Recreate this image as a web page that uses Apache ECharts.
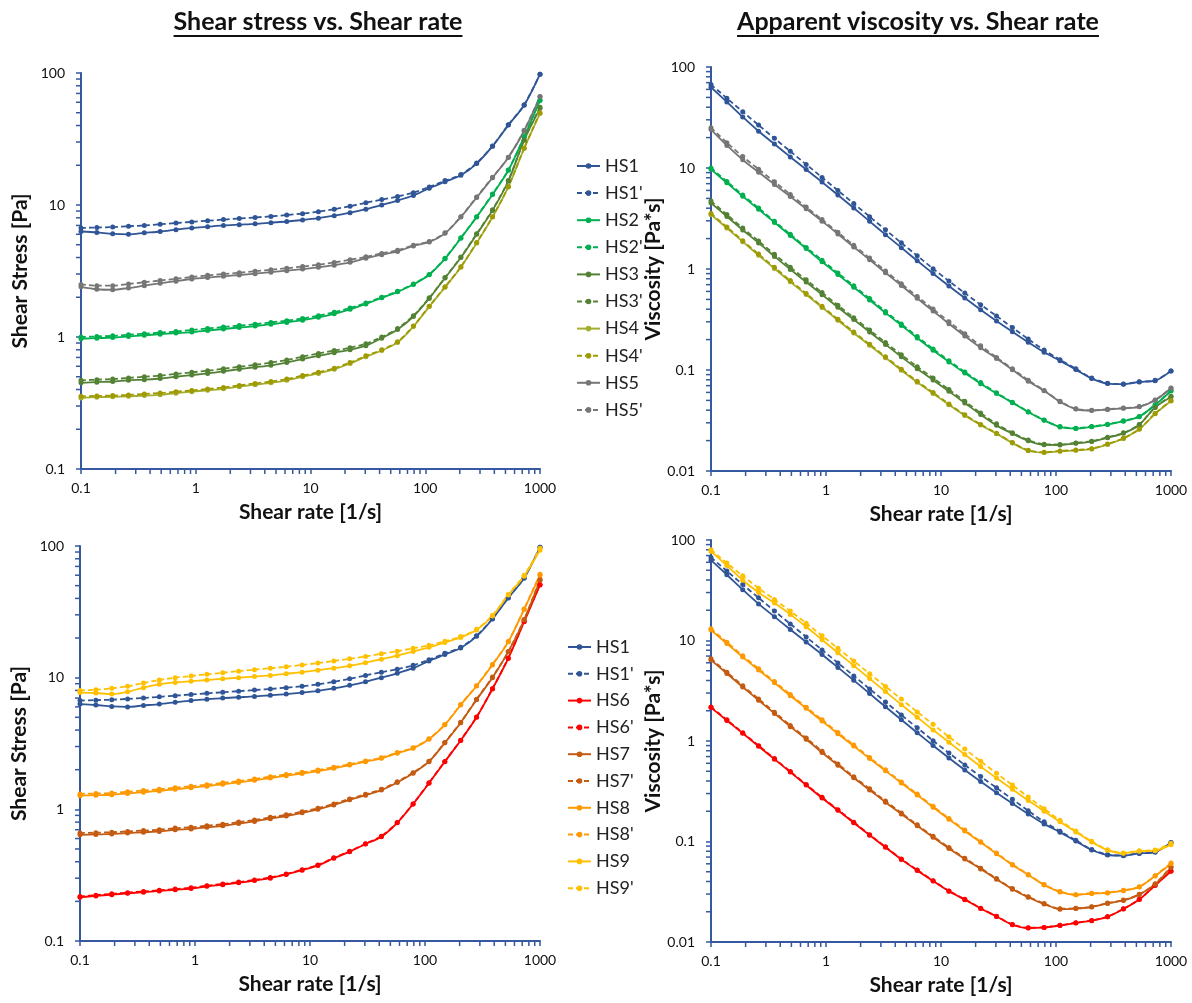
<!DOCTYPE html>
<html><head><meta charset="utf-8">
<script src="https://cdn.jsdelivr.net/npm/echarts/dist/echarts.min.js"></script>
<style>html,body{margin:0;padding:0;background:#fff}#c{width:1192px;height:1003px}</style>
</head><body><div id="c"></div>
<script>
// ---- data (shear rate in 1/s, shear stress in Pa) ----
const shearRate = [0.1,0.1374,0.1888,0.2593,0.3562,0.4894,0.6723,0.9237,1.269,1.743,2.395,3.290,4.520,6.210,8.532,11.72,16.10,22.12,30.39,41.75,57.36,78.80,108.3,148.7,204.3,280.7,385.7,529.8,727.9,1000];

const HS1  = [6.3,6.2,6.05,6.0,6.15,6.3,6.5,6.7,6.85,7.0,7.1,7.2,7.35,7.5,7.7,7.95,8.3,8.75,9.3,10.0,10.8,11.8,13.4,15.0,16.8,20.6,27.9,40.3,57,98];
const HS1p = [6.7,6.75,6.8,6.9,7.0,7.15,7.3,7.45,7.6,7.75,7.9,8.05,8.2,8.4,8.6,8.9,9.3,9.8,10.4,11.0,11.6,12.4,13.7,15.3,17.0,20.8,28.0,40.5,57.5,98];
const HS2  = [0.97,0.98,0.99,1.01,1.03,1.05,1.07,1.09,1.12,1.15,1.18,1.21,1.25,1.29,1.34,1.41,1.50,1.62,1.78,1.98,2.2,2.5,2.96,3.92,5.6,8.1,12.0,18.3,32.8,62];
const HS2p = [1.0,1.01,1.02,1.04,1.06,1.08,1.1,1.13,1.16,1.19,1.22,1.25,1.29,1.33,1.38,1.45,1.54,1.66,1.81,2.0,2.22,2.52,2.98,3.95,5.65,8.15,12.1,18.4,33,62.5];
const HS3  = [0.45,0.455,0.46,0.47,0.475,0.485,0.50,0.515,0.53,0.55,0.57,0.59,0.61,0.64,0.68,0.72,0.76,0.80,0.86,0.98,1.14,1.43,1.96,2.8,4.0,6.0,9.1,15.2,31,54];
const HS3p = [0.47,0.475,0.48,0.49,0.5,0.51,0.525,0.54,0.555,0.575,0.595,0.615,0.64,0.67,0.71,0.75,0.79,0.83,0.89,1.0,1.16,1.45,1.98,2.82,4.03,6.05,9.2,15.3,31.2,55];
const HS4  = [0.345,0.35,0.352,0.355,0.36,0.365,0.375,0.385,0.395,0.405,0.42,0.435,0.45,0.47,0.50,0.53,0.57,0.63,0.71,0.79,0.91,1.20,1.70,2.38,3.38,5.15,8.1,13.7,26.8,49.4];
const HS4p = [0.355,0.358,0.36,0.364,0.37,0.376,0.385,0.394,0.404,0.415,0.43,0.445,0.46,0.48,0.51,0.54,0.58,0.64,0.72,0.8,0.92,1.21,1.71,2.4,3.4,5.2,8.15,13.8,27,50];
const HS5  = [2.4,2.3,2.28,2.35,2.45,2.55,2.65,2.75,2.82,2.88,2.95,3.02,3.1,3.18,3.27,3.37,3.5,3.68,3.95,4.2,4.45,4.9,5.25,6.1,8.1,11.4,16.1,22.9,36.5,66];
const HS5p = [2.5,2.45,2.45,2.52,2.6,2.68,2.76,2.85,2.93,3.0,3.07,3.15,3.23,3.32,3.42,3.53,3.67,3.85,4.05,4.3,4.55,4.95,5.3,6.15,8.15,11.5,16.2,23,36.8,66.5];
const HS6  = [0.215,0.22,0.225,0.23,0.235,0.24,0.245,0.25,0.26,0.268,0.277,0.288,0.30,0.32,0.345,0.375,0.425,0.477,0.545,0.62,0.79,1.1,1.58,2.3,3.33,5.0,8.2,14.0,26.6,50.6];
const HS6p = [0.218,0.223,0.228,0.233,0.238,0.243,0.248,0.254,0.263,0.271,0.28,0.291,0.303,0.323,0.348,0.378,0.428,0.48,0.548,0.625,0.795,1.1,1.59,2.31,3.35,5.02,8.25,14.1,26.8,51];
const HS7  = [0.64,0.645,0.65,0.66,0.67,0.68,0.70,0.71,0.73,0.75,0.78,0.81,0.85,0.89,0.94,1.0,1.08,1.18,1.28,1.40,1.60,1.88,2.3,3.2,4.55,6.8,10,15.7,27.4,55];
const HS7p = [0.66,0.665,0.67,0.68,0.69,0.70,0.72,0.73,0.75,0.77,0.80,0.83,0.87,0.91,0.96,1.02,1.1,1.2,1.3,1.42,1.62,1.9,2.32,3.22,4.58,6.85,10.1,15.8,27.6,56];
const HS8  = [1.27,1.28,1.29,1.32,1.35,1.38,1.42,1.46,1.50,1.55,1.60,1.66,1.73,1.80,1.87,1.95,2.05,2.17,2.30,2.44,2.67,2.91,3.41,4.38,6.2,8.65,12.5,18.7,33,60];
const HS8p = [1.31,1.32,1.33,1.36,1.39,1.42,1.46,1.5,1.54,1.59,1.64,1.7,1.77,1.84,1.91,1.99,2.09,2.2,2.33,2.47,2.7,2.94,3.44,4.4,6.25,8.7,12.6,18.8,33.3,61];
const HS9  = [7.7,7.65,7.5,7.8,8.4,8.9,9.2,9.4,9.6,9.8,10.0,10.2,10.4,10.7,11.0,11.4,11.8,12.3,13.0,13.8,14.7,15.8,17.0,18.5,20.2,23,29.4,42.4,59,93];
const HS9p = [8.0,8.1,8.3,8.6,9.1,9.6,10.0,10.3,10.6,10.9,11.2,11.5,11.8,12.1,12.5,12.9,13.4,13.9,14.5,15.2,15.9,16.7,17.6,18.9,20.5,23.3,29.7,42.8,60,96];

// axis tick values
const xMinorTicks = [0.2,0.3,0.4,0.5,0.6,0.7,0.8,0.9,2,3,4,5,6,7,8,9,20,30,40,50,60,70,80,90,200,300,400,500,600,700,800,900];
const stressMinorTicks = [0.2,0.3,0.4,0.5,0.6,0.7,0.8,0.9,2,3,4,5,6,7,8,9,20,30,40,50,60,70,80,90];
const viscMinorTicks = [0.02,0.03,0.04,0.05,0.06,0.07,0.08,0.09,0.2,0.3,0.4,0.5,0.6,0.7,0.8,0.9,2,3,4,5,6,7,8,9,20,30,40,50,60,70,80,90];

const topSet = [['HS1',HS1,'#2F5597',false],["HS1'",HS1p,'#2F5597',true],['HS2',HS2,'#00B050',false],["HS2'",HS2p,'#00B050',true],
  ['HS3',HS3,'#548235',false],["HS3'",HS3p,'#548235',true],['HS4',HS4,'#A4AE2E',false],["HS4'",HS4p,'#9E9A00',true],
  ['HS5',HS5,'#767676',false],["HS5'",HS5p,'#767676',true]];
const botSet = [['HS1',HS1,'#2F5597',false],["HS1'",HS1p,'#2F5597',true],['HS6',HS6,'#FF0000',false],["HS6'",HS6p,'#FF0000',true],
  ['HS7',HS7,'#C55A11',false],["HS7'",HS7p,'#C55A11',true],['HS8',HS8,'#FF9900',false],["HS8'",HS8p,'#FF9900',true],
  ['HS9',HS9,'#FFC000',false],["HS9'",HS9p,'#FFC000',true]];

const AX = '#3558A0';
const FONT = 'Lato';
const fmt = v => String(+(+v).toPrecision(6));

function lineSeries(entry, gi, visc) {
  const [name, vals, color, dashed] = entry;
  // apparent viscosity = shear stress / shear rate
  const data = shearRate.map((r, i) => [r, visc ? vals[i] / r : vals[i]]);
  return {type:'line', name, xAxisIndex:gi, yAxisIndex:gi, data, smooth:0.3,
    symbol:'circle', symbolSize:5, showSymbol:true, animation:false,
    lineStyle:{color, width:1.8, type: dashed ? [5,3] : 'solid'},
    itemStyle:{color}, emphasis:{disabled:true}, z:3};
}
function tickSeries(gi, axis, values, cross) {
  return {type:'custom', xAxisIndex:gi, yAxisIndex:gi, silent:true, clip:false, z:1, animation:false,
    data: values.map(v => axis === 'x' ? [v, cross] : [cross, v]),
    renderItem(params, api) {
      const p = api.coord([api.value(0), api.value(1)]);
      const shape = axis === 'x' ? {x1:p[0], y1:p[1], x2:p[0], y2:p[1] + 5} : {x1:p[0] - 5, y1:p[1], x2:p[0], y2:p[1]};
      return {type:'line', shape, style:{stroke:AX, lineWidth:1.5}};
    }};
}
function xAx(gi) {
  return {type:'log', logBase:10, min:0.1, max:1000, gridIndex:gi,
    axisLine:{lineStyle:{color:AX, width:2}}, axisTick:{show:true, length:5, lineStyle:{color:AX, width:1.5}},
    axisLabel:{margin:12, color:'#111', fontFamily:FONT, fontSize:14, formatter:fmt},
    splitLine:{show:false}, minorTick:{show:false},
    name:'Shear rate [1/s]', nameLocation:'middle', nameGap:33,
    nameTextStyle:{color:'#111', fontFamily:FONT, fontWeight:'bold', fontSize:21}};
}
function yAx(gi, min, name, gap) {
  return {type:'log', logBase:10, min, max:100, gridIndex:gi,
    axisLine:{show:true, lineStyle:{color:AX, width:2}}, axisTick:{show:true, length:5, lineStyle:{color:AX, width:1.5}},
    axisLabel:{margin:16, color:'#111', fontFamily:FONT, fontSize:14, formatter:fmt},
    splitLine:{show:false},
    name, nameLocation:'middle', nameGap:gap,
    nameTextStyle:{color:'#111', fontFamily:FONT, fontWeight:'bold', fontSize:21}};
}

const series = [];
topSet.forEach(e => series.push(lineSeries(e, 0, false)));
botSet.forEach(e => series.push(lineSeries(e, 2, false)));
topSet.forEach(e => series.push(lineSeries(e, 1, true)));
botSet.forEach(e => series.push(lineSeries(e, 3, true)));
series.push(tickSeries(0,'x',xMinorTicks,0.1), tickSeries(0,'y',stressMinorTicks,0.1));
series.push(tickSeries(1,'x',xMinorTicks,0.01), tickSeries(1,'y',viscMinorTicks,0.1));
series.push(tickSeries(2,'x',xMinorTicks,0.1), tickSeries(2,'y',stressMinorTicks,0.1));
series.push(tickSeries(3,'x',xMinorTicks,0.01), tickSeries(3,'y',viscMinorTicks,0.1));

// titles with underline
const titles = [['Shear stress vs. Shear rate', 318], ['Apparent viscosity vs. Shear rate', 918]];
const ctx = document.createElement('canvas').getContext('2d');
const TFONT = 'bold 25px ' + FONT;
ctx.font = TFONT;
const graphic = [];
titles.forEach(([t, cx]) => {
  const w = ctx.measureText(t).width;
  graphic.push({type:'text', x:cx, y:22, style:{text:t, font:TFONT, fill:'#111', align:'center', verticalAlign:'middle'}});
  graphic.push({type:'line', shape:{x1:cx - w/2, y1:36, x2:cx + w/2, y2:36}, style:{stroke:'#111', lineWidth:2}});
});

const legendCommon = {orient:'vertical', itemWidth:23, itemHeight:7, selectedMode:false,
  textStyle:{fontFamily:FONT, fontSize:18, lineHeight:20, color:'#222'}};

const option = {
  animation:false,
  backgroundColor:'#fff',
  graphic,
  legend:[
    Object.assign({}, legendCommon, {left:571, top:151, itemGap:7.1, data:topSet.map(e => e[0])}),
    Object.assign({}, legendCommon, {left:562, top:632, itemGap:6.8, data:botSet.map(e => e[0])})
  ],
  grid:[
    {left:81, top:73, width:459, height:396},
    {left:711, top:67, width:460, height:404},
    {left:80, top:546, width:460, height:395},
    {left:711, top:540, width:460, height:402}
  ],
  xAxis:[xAx(0), xAx(1), xAx(2), xAx(3)],
  yAxis:[yAx(0,0.1,'Shear Stress [Pa]',50), yAx(1,0.01,'Viscosity [Pa*s]',32), yAx(2,0.1,'Shear Stress [Pa]',50), yAx(3,0.01,'Viscosity [Pa*s]',32)],
  series
};
const chart = echarts.init(document.getElementById('c'), null, {renderer:'canvas'});
chart.setOption(option);
</script></body></html>
